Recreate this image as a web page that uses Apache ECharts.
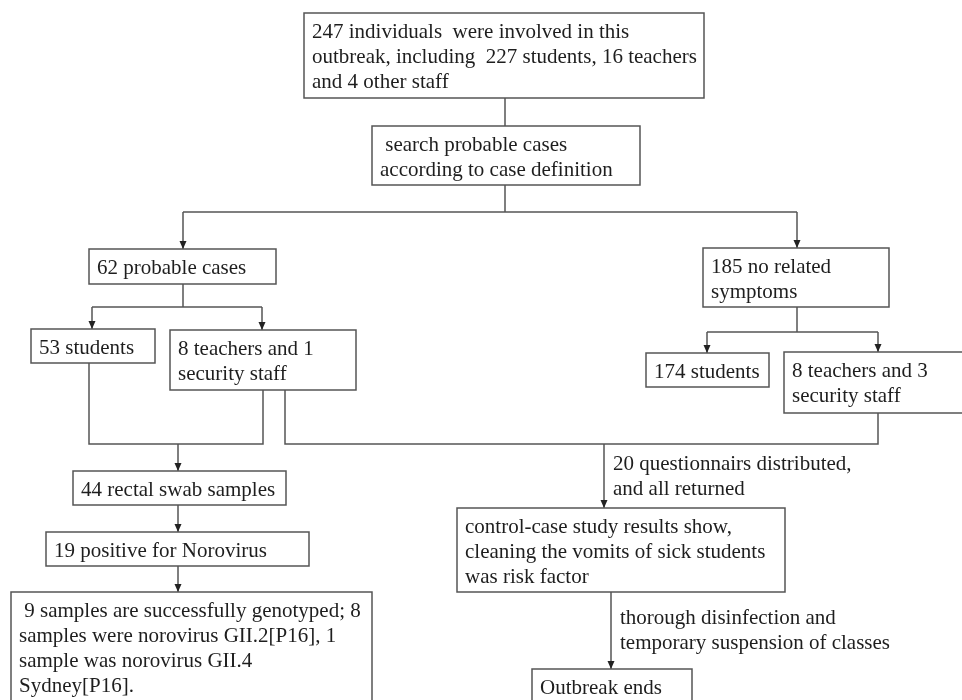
<!DOCTYPE html>
<html>
<head>
<meta charset="utf-8">
<script src="https://cdn.jsdelivr.net/npm/echarts@6/dist/echarts.min.js"></script>
<style>html,body{margin:0;padding:0;background:#fff}#c{width:962px;height:700px}</style>
</head>
<body>
<div id="c"></div>
<script>
// ---- content ----
var boxTexts = [
  '247 individuals  were involved in this\noutbreak, including  227 students, 16 teachers\nand 4 other staff',
  ' search probable cases\naccording to case definition',
  '62 probable cases',
  '185 no related\nsymptoms',
  '53 students',
  '8 teachers and 1\nsecurity staff',
  '174 students',
  '8 teachers and 3\nsecurity staff',
  '44 rectal swab samples',
  '19 positive for Norovirus',
  ' 9 samples are successfully genotyped; 8\nsamples were norovirus GII.2[P16], 1\nsample was norovirus GII.4\nSydney[P16].',
  'control-case study results show,\ncleaning the vomits of sick students\nwas risk factor',
  'Outbreak ends'
];
var edgeTexts = [
  '20 questionnairs distributed,\nand all returned',
  'thorough disinfection and\ntemporary suspension of classes'
];

// ---- layout (pixel space of the 962x700 canvas) ----
var boxLayout = [
  [304, 13, 400, 85],
  [372, 126, 268, 59],
  [89, 249, 187, 35],
  [703, 248, 186, 59],
  [31, 329, 124, 34],
  [170, 330, 186, 60],
  [646, 353, 123, 34],
  [784, 352, 190, 61],
  [73, 471, 213, 34],
  [46, 532, 263, 34],
  [11, 592, 361, 120],
  [457, 508, 328, 84],
  [532, 669, 160, 50]
];
var edgeTextPos = [[613, 463], [620, 617]];
var connectors = [
  {pts: [[505, 98], [505, 126]], arrow: false},
  {pts: [[505, 185], [505, 212]], arrow: false},
  {pts: [[183, 212], [797, 212]], arrow: false},
  {pts: [[183, 212], [183, 249]], arrow: true},
  {pts: [[797, 212], [797, 248]], arrow: true},
  {pts: [[183, 284], [183, 307]], arrow: false},
  {pts: [[92, 307], [262, 307]], arrow: false},
  {pts: [[92, 307], [92, 329]], arrow: true},
  {pts: [[262, 307], [262, 330]], arrow: true},
  {pts: [[797, 307], [797, 332]], arrow: false},
  {pts: [[707, 332], [878, 332]], arrow: false},
  {pts: [[707, 332], [707, 353]], arrow: true},
  {pts: [[878, 332], [878, 352]], arrow: true},
  {pts: [[89, 363], [89, 444], [263, 444], [263, 390]], arrow: false},
  {pts: [[178, 444], [178, 471]], arrow: true},
  {pts: [[285, 390], [285, 444], [878, 444], [878, 413]], arrow: false},
  {pts: [[604, 444], [604, 508]], arrow: true},
  {pts: [[178, 505], [178, 532]], arrow: true},
  {pts: [[178, 566], [178, 592]], arrow: true},
  {pts: [[611, 592], [611, 669]], arrow: true}
];

var FONT = '21px "Liberation Serif", "Times New Roman", serif';
var TEXT_COLOR = '#1e1e1e';
var LINE_COLOR = '#555555';
var PAD_X = 8, FIRST_LINE = 19.5, LINE_H = 25;

var boxData = boxTexts.map(function (t, i) {
  var b = boxLayout[i];
  return [b[0], b[1], b[2], b[3], i];
});
var edgeData = edgeTexts.map(function (t, i) {
  return [edgeTextPos[i][0], edgeTextPos[i][1], i];
});
var connData = connectors.map(function (c, i) { return [c.pts[0][0], c.pts[0][1], i]; });

var chart = echarts.init(document.getElementById('c'));
chart.setOption({
  backgroundColor: '#ffffff',
  animation: false,
  grid: {left: 0, right: 0, top: 0, bottom: 0},
  xAxis: {type: 'value', min: 0, max: 962, show: false},
  yAxis: {type: 'value', min: 0, max: 700, inverse: true, show: false},
  series: [
    {
      type: 'custom',
      coordinateSystem: 'cartesian2d',
      data: connData,
      renderItem: function (params, api) {
        var c = connectors[api.value(2)];
        var pts = c.pts.map(function (p) { return api.coord(p); });
        var children = [{
          type: 'polyline',
          shape: {points: pts},
          style: {stroke: LINE_COLOR, lineWidth: 1.5, fill: null}
        }];
        if (c.arrow) {
          var end = pts[pts.length - 1];
          children.push({
            type: 'polygon',
            shape: {points: [[end[0] - 3.5, end[1] - 8], [end[0] + 3.5, end[1] - 8], [end[0], end[1]]]},
            style: {fill: '#222222'}
          });
        }
        return {type: 'group', children: children};
      }
    },
    {
      type: 'custom',
      coordinateSystem: 'cartesian2d',
      data: boxData,
      renderItem: function (params, api) {
        var p0 = api.coord([api.value(0), api.value(1)]);
        var p1 = api.coord([api.value(0) + api.value(2), api.value(1) + api.value(3)]);
        var idx = api.value(4);
        return {
          type: 'group',
          children: [
            {
              type: 'rect',
              shape: {x: p0[0], y: p0[1], width: p1[0] - p0[0], height: p1[1] - p0[1]},
              style: {fill: '#ffffff', stroke: LINE_COLOR, lineWidth: 1.5}
            },
            {
              type: 'text',
              x: p0[0] + PAD_X,
              y: p0[1] + FIRST_LINE - LINE_H / 2,
              style: {
                text: boxTexts[idx],
                font: FONT,
                fill: TEXT_COLOR,
                lineHeight: LINE_H,
                verticalAlign: 'top',
                align: 'left'
              }
            }
          ]
        };
      }
    },
    {
      type: 'custom',
      coordinateSystem: 'cartesian2d',
      data: edgeData,
      renderItem: function (params, api) {
        var p = api.coord([api.value(0), api.value(1)]);
        return {
          type: 'text',
          x: p[0],
          y: p[1] - LINE_H / 2 + 1.5,
          style: {
            text: edgeTexts[api.value(2)],
            font: FONT,
            fill: TEXT_COLOR,
            lineHeight: LINE_H,
            verticalAlign: 'top',
            align: 'left'
          }
        };
      }
    }
  ]
});
</script>
</body>
</html>
